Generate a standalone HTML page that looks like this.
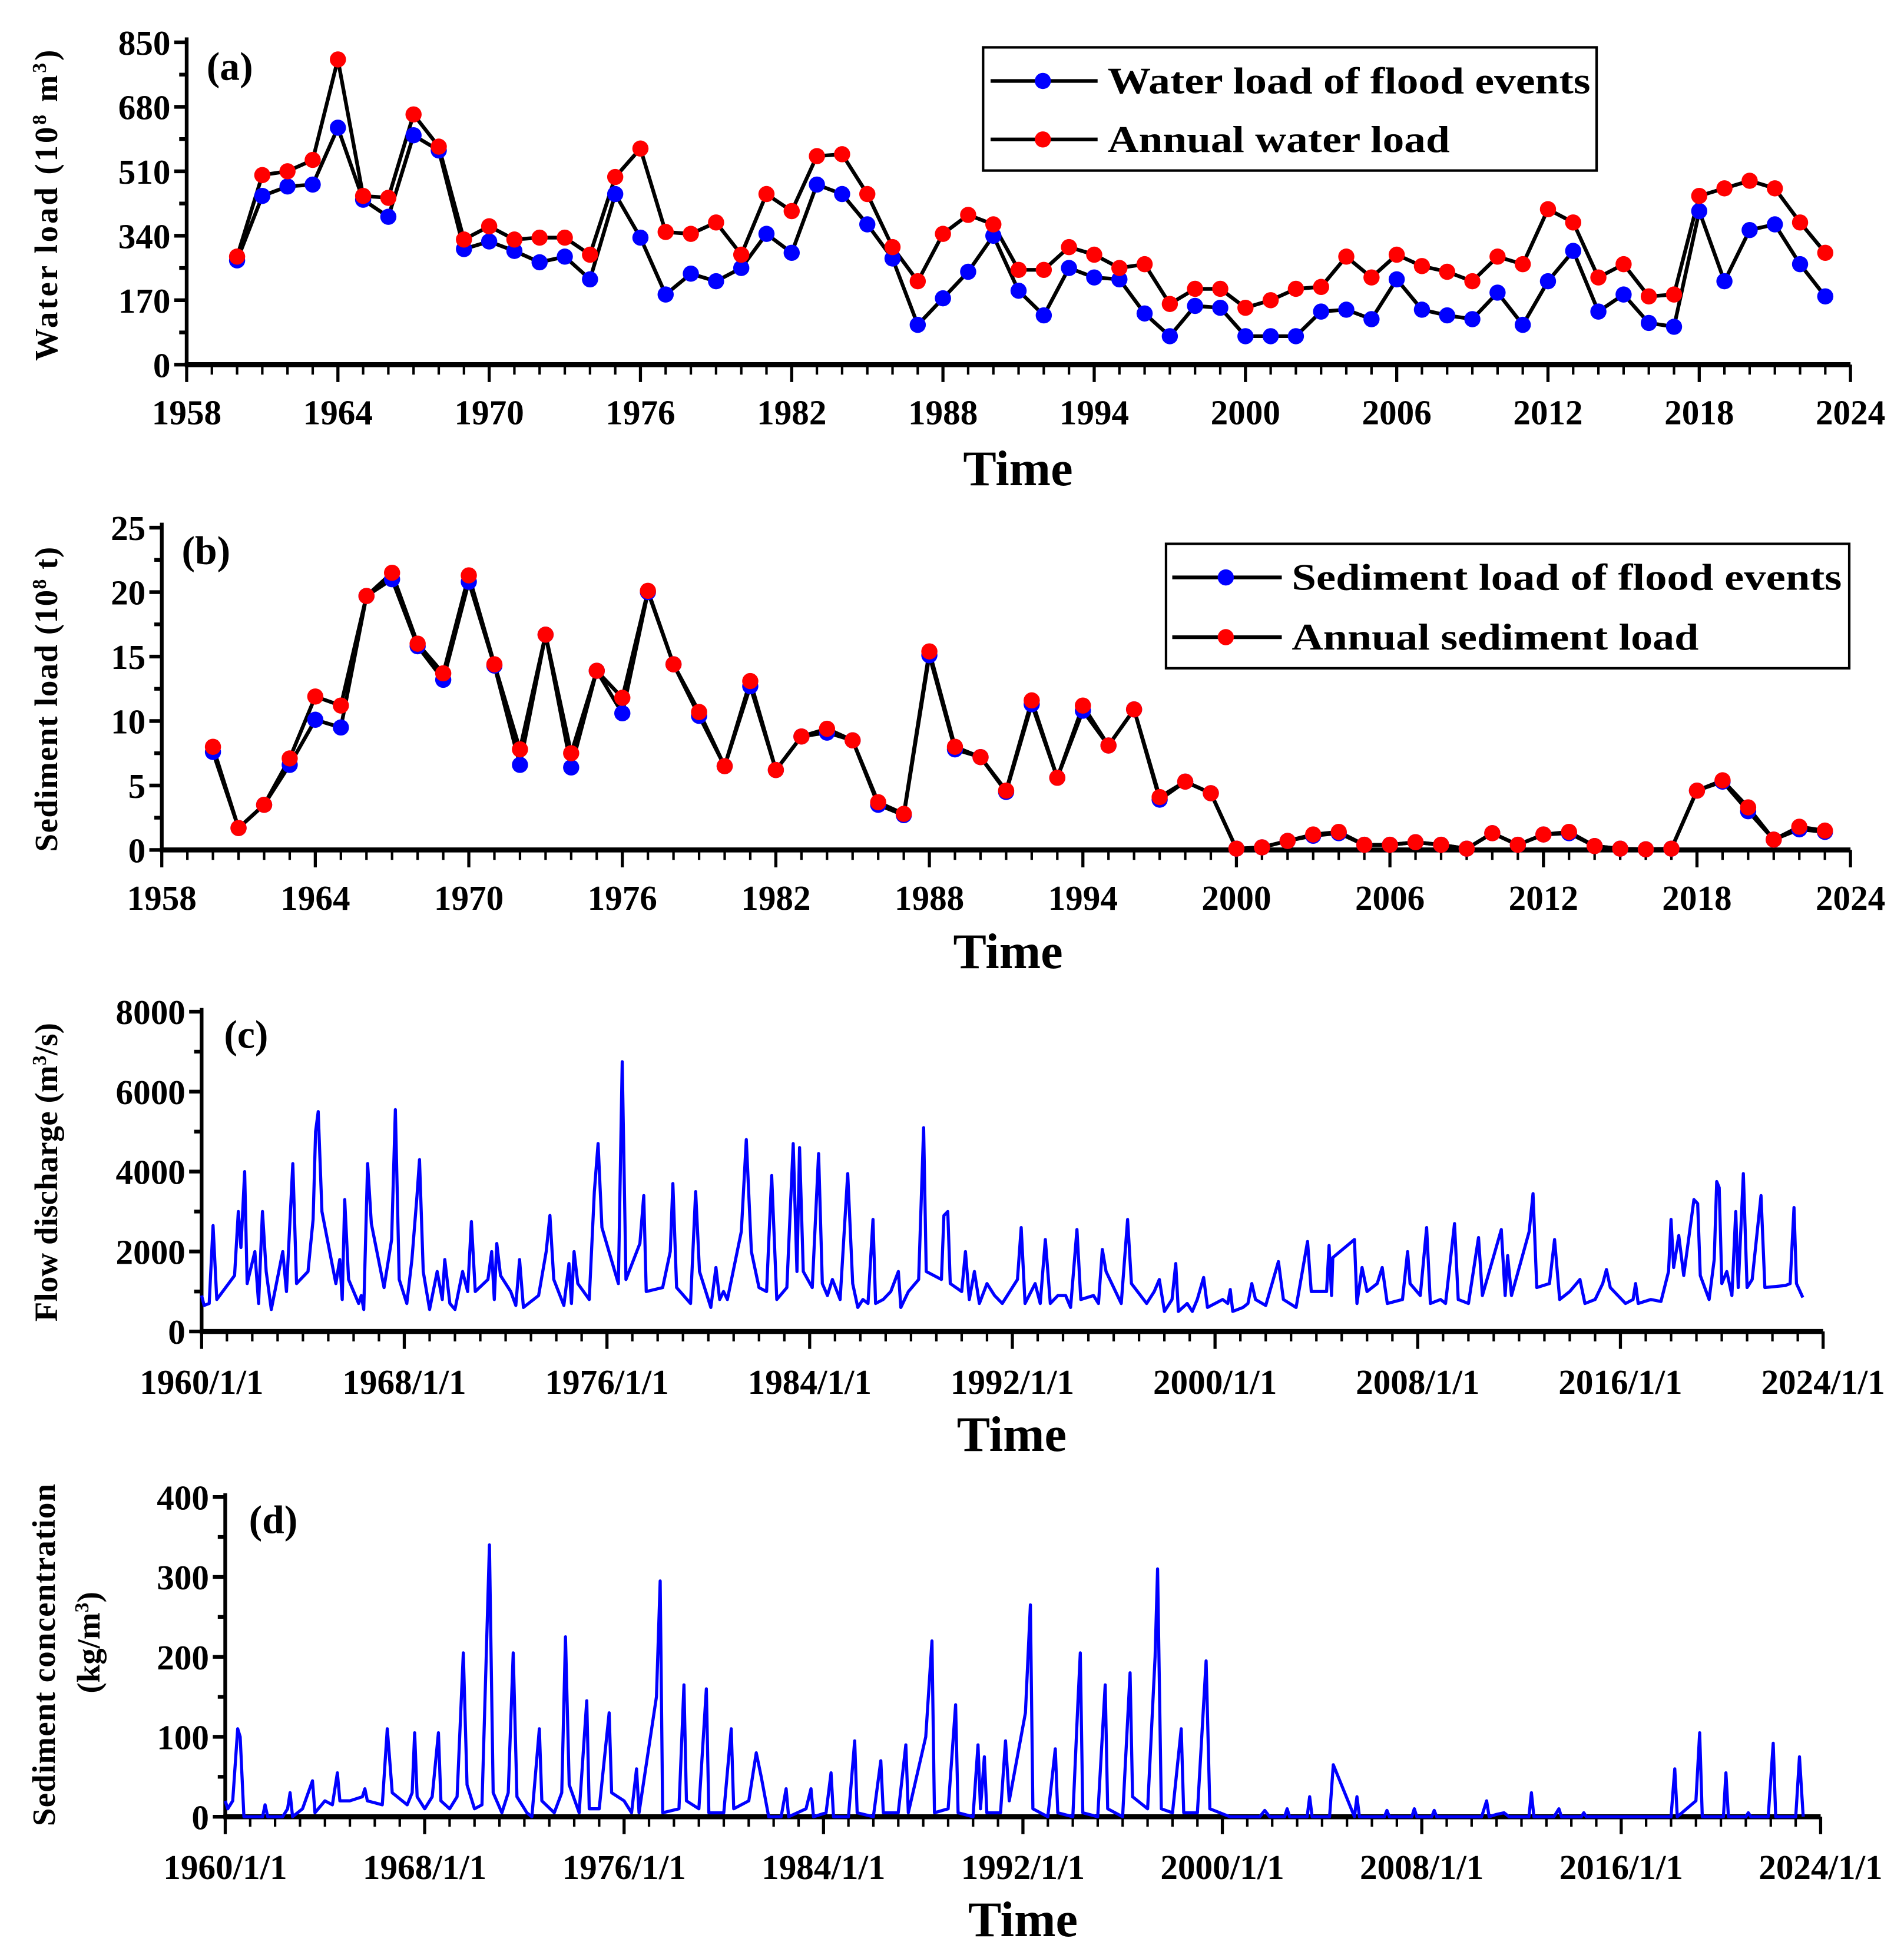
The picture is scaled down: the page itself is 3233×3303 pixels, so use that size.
<!DOCTYPE html>
<html><head><meta charset="utf-8"><style>
html,body{margin:0;padding:0;background:#fff}
svg{display:block}
text{font-family:"Liberation Serif",serif;font-weight:bold;fill:#000}
</style></head><body>
<svg id="fig" width="3233" height="3303" viewBox="0 0 1530 1563" xmlns="http://www.w3.org/2000/svg"></svg>
<script>
// ---------- data ----------
const years = [];
for (let y = 1960; y <= 2023; y++) years.push(y);
const waterFlood = [275,445,470,475,625,435,390,605,565,305,325,300,270,285,225,450,335,185,240,220,255,345,295,475,450,370,280,105,175,245,340,195,130,255,230,225,135,75,155,150,75,75,75,140,145,120,225,145,130,120,190,105,220,300,140,185,110,100,405,220,355,370,265,180];
const waterAnnual = [285,500,510,540,805,445,440,660,575,330,365,330,335,335,290,495,570,350,345,375,290,450,405,550,555,450,310,220,345,395,370,250,250,310,290,255,265,160,200,200,150,170,200,205,285,230,290,260,245,220,285,265,410,375,230,265,180,185,445,465,485,465,375,295];
const sedFlood = [7.6,1.7,3.5,6.6,10.1,9.5,19.7,21.0,15.8,13.2,20.8,14.3,6.6,16.7,6.4,13.9,10.6,20.0,14.4,10.4,6.5,12.7,6.2,8.8,9.1,8.5,3.5,2.7,15.1,7.8,7.2,4.5,11.3,5.6,10.8,8.1,10.9,3.9,5.3,4.4,0.1,0.2,0.7,1.1,1.3,0.4,0.4,0.6,0.4,0.1,1.3,0.4,1.2,1.3,0.3,0.1,0.05,0.1,4.6,5.3,3.0,0.8,1.6,1.4];
const sedAnnual = [8.0,1.7,3.5,7.1,11.9,11.2,19.7,21.5,16.0,13.7,21.3,14.4,7.8,16.7,7.5,13.9,11.8,20.1,14.4,10.7,6.5,13.1,6.2,8.8,9.4,8.5,3.7,2.8,15.4,8.0,7.2,4.6,11.6,5.6,11.2,8.1,10.9,4.1,5.3,4.4,0.1,0.2,0.7,1.2,1.4,0.4,0.4,0.6,0.4,0.1,1.3,0.4,1.2,1.4,0.3,0.1,0.05,0.1,4.6,5.4,3.3,0.8,1.8,1.5];
const yearTicksA = [1958,1964,1970,1976,1982,1988,1994,2000,2006,2012,2018,2024];
const waterTicks = [0,170,340,510,680,850];
const sedTicks = [0,5,10,15,20,25];
const flowT = [1960.0,1960.1,1960.3,1960.45,1960.6,1961.3,1961.45,1961.55,1961.7,1961.8,1962.1,1962.25,1962.4,1962.55,1962.75,1963.2,1963.35,1963.6,1963.75,1964.2,1964.4,1964.5,1964.6,1964.75,1965.3,1965.45,1965.55,1965.65,1965.8,1966.2,1966.3,1966.4,1966.55,1966.7,1967.2,1967.5,1967.65,1967.8,1968.1,1968.3,1968.5,1968.6,1968.75,1969.0,1969.3,1969.5,1969.6,1969.8,1970.0,1970.3,1970.5,1970.65,1970.8,1971.3,1971.45,1971.55,1971.65,1971.8,1972.2,1972.4,1972.55,1972.7,1973.3,1973.6,1973.75,1973.9,1974.3,1974.5,1974.6,1974.7,1974.85,1975.3,1975.5,1975.65,1975.8,1976.45,1976.6,1976.75,1977.3,1977.45,1977.55,1978.2,1978.5,1978.6,1978.75,1979.3,1979.5,1979.65,1980.1,1980.3,1980.45,1980.6,1980.75,1981.3,1981.5,1981.7,1982.0,1982.3,1982.5,1982.7,1983.1,1983.35,1983.5,1983.6,1983.75,1984.1,1984.35,1984.5,1984.7,1984.9,1985.2,1985.5,1985.7,1985.9,1986.1,1986.3,1986.5,1986.6,1986.9,1987.2,1987.5,1987.6,1987.9,1988.3,1988.5,1988.6,1989.2,1989.3,1989.45,1989.55,1990.0,1990.15,1990.3,1990.5,1990.7,1991.0,1991.3,1991.6,1992.2,1992.35,1992.5,1992.9,1993.1,1993.3,1993.5,1993.8,1994.1,1994.3,1994.55,1994.7,1995.2,1995.4,1995.55,1995.7,1996.3,1996.55,1996.7,1997.3,1997.6,1997.8,1998.0,1998.3,1998.45,1998.55,1998.9,1999.1,1999.3,1999.55,1999.7,2000.3,2000.5,2000.6,2000.7,2001.1,2001.3,2001.45,2001.6,2002.0,2002.5,2002.7,2003.2,2003.65,2003.8,2004.4,2004.5,2004.6,2004.65,2005.5,2005.6,2005.8,2006.0,2006.4,2006.6,2006.8,2007.4,2007.6,2007.7,2008.1,2008.35,2008.5,2008.9,2009.1,2009.45,2009.6,2010.0,2010.4,2010.55,2011.3,2011.45,2011.55,2011.7,2012.4,2012.55,2012.7,2013.2,2013.4,2013.6,2014.0,2014.4,2014.6,2015.0,2015.3,2015.45,2015.6,2016.2,2016.5,2016.6,2016.7,2017.2,2017.6,2017.9,2018.0,2018.1,2018.3,2018.5,2018.9,2019.05,2019.15,2019.5,2019.7,2019.8,2019.9,2020.0,2020.2,2020.4,2020.55,2020.65,2020.85,2021.0,2021.2,2021.55,2021.7,2022.5,2022.7,2022.85,2022.95,2023.2];
const flowV = [900,650,700,2650,800,1400,3000,2100,4000,1200,2000,700,3000,1500,550,2000,1000,4200,1200,1500,2800,5000,5500,3000,1200,1800,800,3300,1300,700,900,550,4200,2700,1100,2300,5550,1300,700,1800,3400,4300,1500,550,1500,800,1800,700,550,1500,1000,2750,1000,1300,2000,800,2200,1400,1000,650,1800,600,900,2000,2900,1300,650,1700,700,2000,1200,800,3500,4700,2600,1200,6750,1300,2200,3400,1000,1100,2000,3700,1100,700,3500,1500,600,1600,800,1000,800,2500,4800,2000,1100,1000,3900,800,1100,4700,1500,4600,1500,1100,4450,1200,900,1300,800,3950,1200,600,800,700,2800,700,800,1000,1500,600,1000,1300,5100,1500,1300,2900,3000,1200,1000,2000,800,1500,700,1200,900,700,1300,2600,700,1200,700,2300,700,900,900,600,2550,800,900,700,2050,1500,700,2800,1200,700,1000,1300,500,800,1700,500,700,500,800,1350,600,800,700,1050,500,600,700,1200,800,650,1750,800,600,2250,1000,1000,2150,900,1850,2300,700,1600,1000,1200,1600,700,800,2000,1200,900,2600,700,800,700,2700,800,700,2350,900,2550,900,1900,900,2500,3450,1100,1200,2300,800,1000,1300,700,800,1200,1550,1100,700,800,1200,700,800,750,1500,2800,1600,2400,1400,3300,3200,1400,800,1800,3750,3600,1200,1500,900,3000,1100,3950,1100,1300,3400,1100,1150,1200,3100,1200,850];
const concT = [1960.0,1960.1,1960.3,1960.5,1960.6,1960.75,1961.5,1961.6,1961.7,1962.3,1962.5,1962.6,1962.7,1963.1,1963.5,1963.6,1964.0,1964.3,1964.5,1964.6,1965.0,1965.5,1965.6,1965.7,1966.3,1966.5,1966.7,1967.3,1967.5,1967.6,1967.7,1968.0,1968.3,1968.55,1968.65,1969.0,1969.3,1969.55,1969.7,1970.0,1970.3,1970.6,1970.75,1971.1,1971.35,1971.55,1971.7,1972.1,1972.3,1972.6,1972.7,1973.2,1973.5,1973.65,1973.8,1974.2,1974.5,1974.6,1975.0,1975.4,1975.5,1976.0,1976.3,1976.5,1976.6,1977.3,1977.45,1977.55,1978.2,1978.4,1978.5,1979.0,1979.3,1979.4,1980.0,1980.3,1980.4,1981.0,1981.3,1981.5,1981.8,1982.3,1982.5,1982.6,1983.3,1983.5,1983.6,1984.1,1984.3,1984.4,1985.0,1985.25,1985.35,1986.0,1986.3,1986.4,1987.0,1987.3,1987.4,1988.1,1988.35,1988.45,1989.0,1989.3,1989.4,1990.0,1990.2,1990.3,1990.45,1990.55,1991.1,1991.3,1991.45,1992.1,1992.3,1992.4,1993.0,1993.3,1993.4,1994.0,1994.2,1994.3,1994.4,1995.0,1995.3,1995.4,1996.0,1996.3,1996.4,1997.0,1997.3,1997.4,1997.55,1998.0,1998.35,1998.45,1999.0,1999.35,1999.5,2000.3,2001.5,2001.7,2001.9,2002.5,2002.6,2002.7,2003.4,2003.5,2003.6,2004.3,2004.45,2005.3,2005.4,2005.5,2006.5,2006.6,2006.7,2007.6,2007.7,2007.8,2008.4,2008.5,2008.6,2010.4,2010.6,2010.7,2011.0,2011.3,2011.5,2012.3,2012.4,2012.5,2013.3,2013.5,2013.6,2014.4,2014.5,2014.6,2018.0,2018.15,2018.25,2019.0,2019.15,2019.25,2020.1,2020.2,2020.3,2021.0,2021.1,2021.2,2021.9,2022.1,2022.2,2023.0,2023.15,2023.3];
const concV = [20,10,20,110,100,0,0,15,0,0,10,30,0,10,45,5,20,15,55,20,20,25,35,20,15,110,30,15,30,105,25,10,25,105,20,10,25,205,40,10,15,340,30,5,30,205,25,5,0,110,20,5,30,225,40,5,145,10,10,130,30,20,5,60,5,150,295,5,10,165,20,10,160,5,5,110,10,20,80,50,0,0,35,0,10,35,0,5,55,0,0,95,5,0,70,5,5,90,5,100,220,5,10,140,5,0,90,10,75,5,5,95,20,130,265,10,0,85,5,0,140,205,5,0,165,10,0,180,25,10,200,310,10,5,110,5,5,195,10,0,0,8,0,0,10,0,0,25,0,0,65,0,25,0,0,8,0,0,10,0,0,8,0,0,20,0,3,5,0,0,30,0,0,10,0,0,5,0,0,60,0,20,105,0,0,55,0,0,5,0,0,92,0,0,75,0];
const flowTicks = [0,2000,4000,6000,8000];
const concTicks = [0,100,200,300,400];
const dateTicks = [1960,1968,1976,1984,1992,2000,2008,2016,2024];

// ---------- helpers ----------
const NS = "http://www.w3.org/2000/svg";
const svg = document.getElementById('fig');
function mk(tag, attrs, parent, text){
  const e = document.createElementNS(NS, tag);
  for (const k in attrs) e.setAttribute(k, attrs[k]);
  if (text !== undefined) e.textContent = text;
  (parent || svg).appendChild(e);
  return e;
}
function scale(d0,d1,r0,r1){ return v => r0 + (v-d0)/(d1-d0)*(r1-r0); }

function axes(g, P){
  mk('line',{x1:P.x0,y1:P.y0,x2:P.x0,y2:P.y1,stroke:'#000','stroke-width':3},g);
  mk('line',{x1:P.x0-1.5,y1:P.y0,x2:P.x1,y2:P.y0,stroke:'#000','stroke-width':4},g);
  P.yTicks.forEach((v,i)=>{
    const y = P.ys(v);
    mk('line',{x1:P.x0-10,y1:y,x2:P.x0,y2:y,stroke:'#000','stroke-width':3},g);
    const t = mk('text',{x:P.x0-13,y:y+10,'text-anchor':'end','font-size':28},g,String(v));
    
    
    if (i < P.yTicks.length-1){
      const ym = P.ys((v+P.yTicks[i+1])/2);
      mk('line',{x1:P.x0-6,y1:ym,x2:P.x0,y2:ym,stroke:'#000','stroke-width':3},g);
    }
  });
  for (let v = P.xMin; v <= P.xMax + 1e-9; v += P.xMinorStep){
    const x = P.xs(v);
    mk('line',{x1:x,y1:P.y0,x2:x,y2:P.y0+8,stroke:'#000','stroke-width':2},g);
  }
  P.xTicks.forEach((v,i)=>{
    const x = P.xs(v);
    mk('line',{x1:x,y1:P.y0,x2:x,y2:P.y0+14,stroke:'#000','stroke-width':2.5},g);
    const t = mk('text',{x:x,y:P.y0+P.lblOff,'text-anchor':'middle','font-size':28},g,P.xLabels[i]);
    
    
  });
}
function polyline(g, xs, ys, X, Y, color, w){
  const pts = X.map((v,i)=>xs(v).toFixed(1)+','+ys(Y[i]).toFixed(1)).join(' ');
  return mk('polyline',{points:pts,fill:'none',stroke:color,'stroke-width':w,'stroke-linejoin':'round'},g);
}

// ---------- panel a ----------
(function(){
  const g = mk('g',{});
  const xs = scale(1958,2024,150,1487), ys = scale(0,850,293,34);
  axes(g,{x0:150,x1:1487,y0:293,y1:30,xs,ys,xTicks:yearTicksA,xLabels:yearTicksA.map(String),xMin:1958,xMax:2024,xMinorStep:1,yTicks:waterTicks,lblOff:48});
  const l1 = polyline(g,xs,ys,years,waterFlood,'#000',3);
   
  const l2 = polyline(g,xs,ys,years,waterAnnual,'#000',3);
   
  years.forEach((y,i)=>{
    const c = mk('circle',{cx:xs(y),cy:ys(waterFlood[i]),r:6.5,fill:'#0000ff'},g);
     
  });
  years.forEach((y,i)=>{
    const c = mk('circle',{cx:xs(y),cy:ys(waterAnnual[i]),r:6.5,fill:'#ff0000'},g);
     
  });
  mk('text',{x:166,y:64,'font-size':32,},g,'(a)');
  const yt = mk('text',{transform:'translate(46,165) rotate(-90)','text-anchor':'middle','font-size':26,textLength:250,lengthAdjust:'spacing',},g);
  yt.innerHTML = 'Water load (10<tspan dy="-9" font-size="16">8</tspan><tspan dy="9"> m</tspan><tspan dy="-9" font-size="16">3</tspan><tspan dy="9">)</tspan>';
  mk('text',{x:818,y:390,'text-anchor':'middle','font-size':40,},g,'Time');
  const lg = mk('g',{},g);
  mk('rect',{x:790,y:38,width:493,height:99,fill:'#fff',stroke:'#000','stroke-width':2},lg);
  [['Water load of flood events','#0000ff',65,388],['Annual water load','#ff0000',112,275]].forEach(([t,c,y,w])=>{
    const e = mk('g',{},lg);
    mk('line',{x1:796,y1:y,x2:882,y2:y,stroke:'#000','stroke-width':3},e);
    mk('circle',{cx:838,cy:y,r:6.5,fill:c},e);
    mk('text',{x:890,y:y+10,'font-size':30,textLength:w,lengthAdjust:'spacingAndGlyphs'},e,t);
  });
})();

// ---------- panel b ----------
(function(){
  const g = mk('g',{});
  const xs = scale(1958,2024,130,1487), ys = scale(0,25,683,424);
  axes(g,{x0:130,x1:1487,y0:683,y1:420,xs,ys,xTicks:yearTicksA,xLabels:yearTicksA.map(String),xMin:1958,xMax:2024,xMinorStep:1,yTicks:sedTicks,lblOff:48});
  const l1 = polyline(g,xs,ys,years,sedFlood,'#000',3);
   
  const l2 = polyline(g,xs,ys,years,sedAnnual,'#000',3);
   
  years.forEach((y,i)=>{
    const c = mk('circle',{cx:xs(y),cy:ys(sedFlood[i]),r:6.5,fill:'#0000ff'},g);
     
  });
  years.forEach((y,i)=>{
    const c = mk('circle',{cx:xs(y),cy:ys(sedAnnual[i]),r:6.5,fill:'#ff0000'},g);
     
  });
  mk('text',{x:146,y:453,'font-size':32,},g,'(b)');
  const yt = mk('text',{transform:'translate(46,562) rotate(-90)','text-anchor':'middle','font-size':26,textLength:245,lengthAdjust:'spacing',},g);
  yt.innerHTML = 'Sediment load (10<tspan dy="-9" font-size="16">8</tspan><tspan dy="9"> t)</tspan>';
  mk('text',{x:810,y:778,'text-anchor':'middle','font-size':40,},g,'Time');
  const lg = mk('g',{},g);
  mk('rect',{x:937,y:437,width:549,height:100,fill:'#fff',stroke:'#000','stroke-width':2},lg);
  [['Sediment load of flood events','#0000ff',464,442],['Annual sediment load','#ff0000',512,327]].forEach(([t,c,y,w])=>{
    const e = mk('g',{},lg);
    mk('line',{x1:942,y1:y,x2:1030,y2:y,stroke:'#000','stroke-width':3},e);
    mk('circle',{cx:985,cy:y,r:6.5,fill:c},e);
    mk('text',{x:1038,y:y+10,'font-size':30,textLength:w,lengthAdjust:'spacingAndGlyphs'},e,t);
  });
})();

// ---------- panel c ----------
(function(){
  const g = mk('g',{});
  const xs = scale(1960,2024,162,1465), ys = scale(0,8000,1070,813);
  axes(g,{x0:162,x1:1465,y0:1070,y1:810,xs,ys,xTicks:dateTicks,xLabels:dateTicks.map(d=>d+'/1/1'),xMin:1960,xMax:2024,xMinorStep:1,yTicks:flowTicks,lblOff:50});
  const l = polyline(g,xs,ys,flowT,flowV,'#0000ff',2.5);
   
  mk('text',{x:180,y:842,'font-size':32,},g,'(c)');
  const yt = mk('text',{transform:'translate(46,942) rotate(-90)','text-anchor':'middle','font-size':26,textLength:240,lengthAdjust:'spacing',},g);
  yt.innerHTML = 'Flow discharge (m<tspan dy="-9" font-size="16">3</tspan><tspan dy="9">/s)</tspan>';
  mk('text',{x:813,y:1166,'text-anchor':'middle','font-size':40,},g,'Time');
})();

// ---------- panel d ----------
(function(){
  const g = mk('g',{});
  const xs = scale(1960,2024,181,1463), ys = scale(0,400,1460,1203);
  axes(g,{x0:181,x1:1463,y0:1460,y1:1200,xs,ys,xTicks:dateTicks,xLabels:dateTicks.map(d=>d+'/1/1'),xMin:1960,xMax:2024,xMinorStep:1,yTicks:concTicks,lblOff:50});
  const l = polyline(g,xs,ys,concT,concV,'#0000ff',2.5);
   
  mk('text',{x:200,y:1232,'font-size':32,},g,'(d)');
  mk('text',{transform:'translate(44,1330) rotate(-90)','text-anchor':'middle','font-size':26,textLength:275,lengthAdjust:'spacing',},g,'Sediment concentration');
  const yt = mk('text',{transform:'translate(80,1320) rotate(-90)','text-anchor':'middle','font-size':26,},g);
  yt.innerHTML = '(kg/m<tspan dy="-9" font-size="16">3</tspan><tspan dy="9">)</tspan>';
  mk('text',{x:822,y:1556,'text-anchor':'middle','font-size':40,},g,'Time');
})();
</script>
</body></html>
